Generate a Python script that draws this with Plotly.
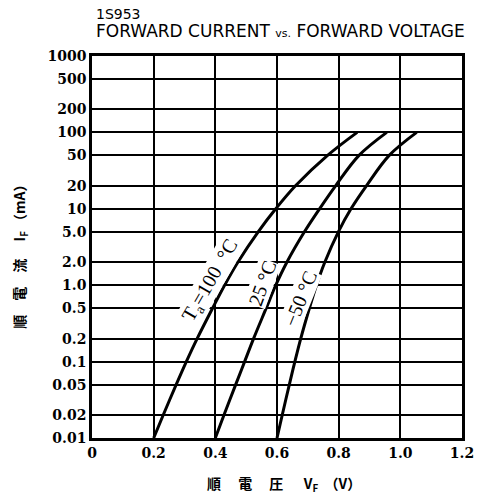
import plotly.graph_objects as go
import math

# ---- data ----
current_mA = [0.01, 0.02, 0.05, 0.1, 0.2, 0.5, 1, 2, 5, 10, 20, 50, 100]
vf_100C = [0.200, 0.231, 0.273, 0.306, 0.341, 0.391, 0.430, 0.473, 0.539, 0.596, 0.660, 0.764, 0.860]
vf_25C = [0.400, 0.428, 0.466, 0.495, 0.524, 0.565, 0.596, 0.632, 0.689, 0.738, 0.790, 0.866, 0.956]
vf_m50C = [0.600, 0.617, 0.640, 0.658, 0.677, 0.705, 0.728, 0.755, 0.799, 0.840, 0.890, 0.964, 1.053]

y_tickvals = [0.01, 0.02, 0.05, 0.1, 0.2, 0.5, 1, 2, 5, 10, 20, 50, 100, 200, 500, 1000]
y_ticktext = ["0.01", "0.02", "0.05", "0.1", "0.2", "0.5", "1.0", "2.0", "5.0", "10", "20", "50", "100", "200", "500", "1000"]
x_tickvals = [0, 0.2, 0.4, 0.6, 0.8, 1.0, 1.2]
x_ticktext = ["0", "0.2", "0.4", "0.6", "0.8", "1.0", "1.2"]

curve_labels = ["T<sub>a</sub>=100  °C", "25 °C", "−50 °C"]
label_pos_v = [0.385, 0.552, 0.676]
label_pos_i = [1.15, 1.07, 0.68]
label_angle = [-60, -70, -68]

fig = go.Figure()
for vf in (vf_100C, vf_25C, vf_m50C):
    fig.add_trace(go.Scatter(x=vf, y=current_mA, mode="lines",
                             line=dict(color="black", width=3, shape="spline", smoothing=1.0),
                             showlegend=False, hoverinfo="skip"))

for t, v, i, a in zip(curve_labels, label_pos_v, label_pos_i, label_angle):
    fig.add_annotation(x=v, y=math.log10(i), xref="x", yref="y", text=t, showarrow=False,
                       textangle=a, bgcolor="white", borderpad=0,
                       font=dict(family="Liberation Serif", size=20, color="black"))

fig.add_annotation(x=0.006, y=1.110, xref="paper", yref="paper", xanchor="left", yanchor="middle",
                   text="1S953", showarrow=False,
                   font=dict(family="DejaVu Sans", size=14, color="black"))
fig.add_annotation(x=0.006, y=1.066, xref="paper", yref="paper", xanchor="left", yanchor="middle",
                   text="FORWARD CURRENT <span style='font-size:11px'>vs.</span> FORWARD VOLTAGE", showarrow=False,
                   font=dict(family="DejaVu Sans", size=17, color="black"))

fig.add_annotation(x=-0.23, y=0.485, xref="paper", yref="paper", textangle=-90,
                   text="順　電　流　 I<sub>F</sub> （mA）", showarrow=False,
                   font=dict(family="Noto Sans CJK JP", size=14, color="black", weight="bold"))
fig.add_annotation(x=0.52, y=-0.155, xref="paper", yref="paper",
                   text="順　 電　 圧　  V<sub>F</sub>  （V）", showarrow=False,
                   font=dict(family="Noto Sans CJK JP", size=14, color="black", weight="bold"))

fig.update_xaxes(range=[0, 1.2], tickvals=x_tickvals, ticktext=x_ticktext,
                 showgrid=True, gridcolor="black", gridwidth=1.5,
                 showline=True, linecolor="black", linewidth=2.5, mirror=True,
                 zeroline=False, ticks="",
                 tickfont=dict(family="DejaVu Serif", size=14, color="black", weight="bold"))
fig.update_yaxes(type="log", range=[-2, 3], tickvals=y_tickvals, ticktext=y_ticktext,
                 showgrid=True, gridcolor="black", gridwidth=1.5,
                 showline=True, linecolor="black", linewidth=2.5, mirror=True,
                 zeroline=False, ticks="",
                 tickfont=dict(family="DejaVu Serif", size=14, color="black", weight="bold"))

fig.update_layout(width=486, height=502, margin=dict(l=92, r=14, t=56, b=64),
                  paper_bgcolor="white", plot_bgcolor="white", showlegend=False)

fig.write_html("out.html", config={"displayModeBar": False})

# remove the default page margin so the figure fills the window exactly
with open("out.html", "r", encoding="utf-8") as f:
    html = f.read()
html = html.replace("<body>", '<body style="margin:0;overflow:hidden">', 1)
with open("out.html", "w", encoding="utf-8") as f:
    f.write(html)
